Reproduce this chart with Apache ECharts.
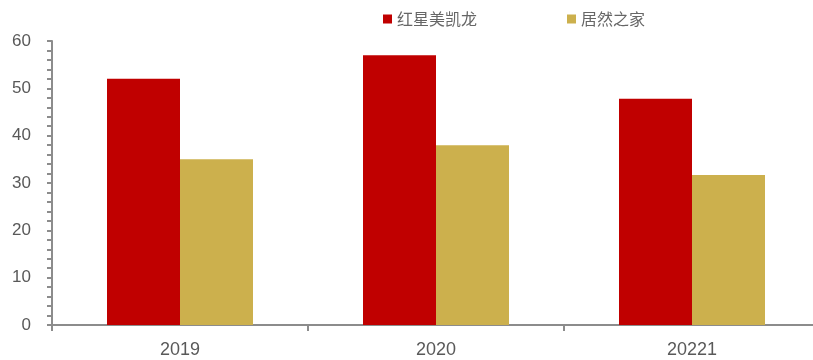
<!DOCTYPE html>
<html><head><meta charset="utf-8">
<script src="https://cdn.jsdelivr.net/npm/echarts@6/dist/echarts.min.js"></script>
<style>html,body{margin:0;padding:0;background:#fff}#c{width:813px;height:360px}</style>
</head><body><div id="c"></div>
<script>
const categories = ['2019', '2020', '20221'];
const seriesNames = ['红星美凯龙', '居然之家'];
const redStar = [52.0, 57.0, 47.8];
const easyHome = [35.0, 38.0, 31.7];
const colors = ['#C00000', '#CCB04D'];

const chart = echarts.init(document.getElementById('c'));
chart.setOption({
  animation: false,
  color: colors,
  legend: {
    top: 6, left: 378,
    itemWidth: 9, itemHeight: 9, itemGap: 90,
    icon: 'rect',
    textStyle: { fontFamily: 'Noto Sans CJK SC', fontSize: 16, color: '#666' },
    data: seriesNames
  },
  grid: { left: 52, width: 768, top: 41, bottom: 35, containLabel: false, outerBoundsMode: 'none' },
  xAxis: {
    type: 'category', data: categories,
    axisLine: { lineStyle: { color: '#8c8c8c', width: 2 } },
    axisTick: { show: true, length: 6, lineStyle: { color: '#8c8c8c', width: 2 } },
    axisLabel: { margin: 16, fontFamily: 'Liberation Sans', fontSize: 18, color: '#595959' }
  },
  yAxis: {
    type: 'value', min: 0, max: 60, interval: 10,
    splitLine: { show: false },
    axisLine: { show: true, lineStyle: { color: '#8c8c8c', width: 2 } },
    axisTick: { show: true, length: 5, lineStyle: { color: '#8c8c8c', width: 2 } },
    minorTick: { show: true, splitNumber: 5, length: 5, lineStyle: { color: '#8c8c8c', width: 2 } },
    axisLabel: { margin: 21, fontFamily: 'Liberation Sans', fontSize: 17, color: '#595959' }
  },
  series: [
    { name: seriesNames[0], type: 'bar', data: redStar, barWidth: 73, barGap: '0%' },
    { name: seriesNames[1], type: 'bar', data: easyHome, barWidth: 73, barGap: '0%' }
  ]
});
</script></body></html>
